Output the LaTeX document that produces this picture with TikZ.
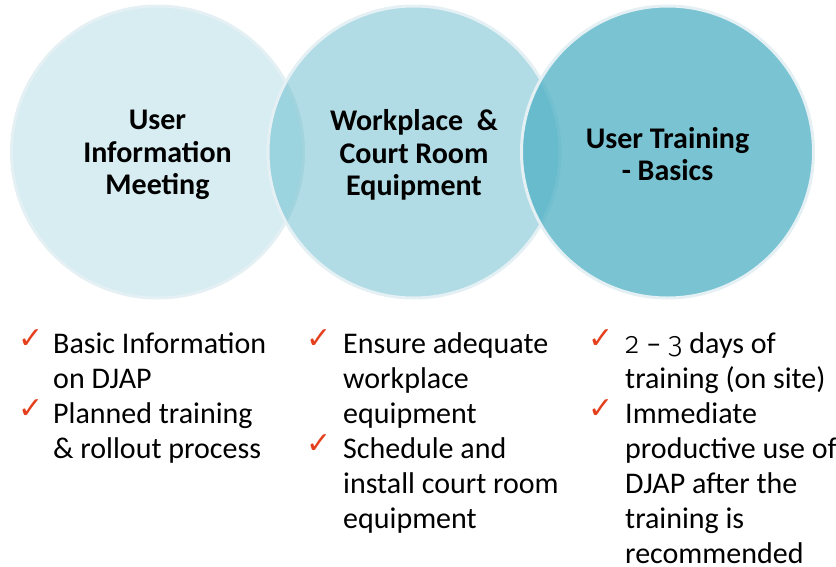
\documentclass[tikz,border=0pt]{standalone}
\usepackage{fontspec}
\setmainfont{Carlito}
\newfontfamily\symfont{DejaVu Sans}
\newfontfamily\oldnums{Fira Sans Light}[Numbers=OldStyle]
\usetikzlibrary{positioning}
\definecolor{aqua}{RGB}{82,178,197}
\definecolor{ring}{RGB}{228,240,244}
\definecolor{tick}{RGB}{228,64,30}

\begin{document}
\begin{tikzpicture}[x=1pt, y=-1pt,
    disc/.style={circle, minimum size=292pt, inner sep=0pt, line width=3pt, draw=ring, fill=aqua},
    title/.style={font=\fontsize{30}{32.5}\selectfont\bfseries, align=center},
    item/.style={font=\fontsize{30}{35}\selectfont, text width=240pt, align=flush left, inner sep=0pt, anchor=base west},
    tickmark/.style={font=\symfont\fontsize{30}{30}\selectfont, text=tick, inner sep=0pt, anchor=base west}]
      \useasboundingbox (0, 0) rectangle (836, 566);
      % circles
      \node[disc, fill opacity=0.23] (meet) at (157.5, 152) {};
      \node[disc, fill opacity=0.45] (equip) at (414, 152) {};
      \node[disc, fill opacity=0.775] (train) at (667.5, 152) {};
      \node[title] (meettxt) at (157.5, 155) {User\\Information\\Meeting};
      \node[title] (equiptxt) at (414, 155) {Workplace\ \ \&\\Court Room\\Equipment};
      \node[title] (traintxt) at (667.5, 154) {User Training\\- Basics};
      % lists
      \node[tickmark] (meettick1) at (18, 348) {✓};
      \node[item] (meet1) at (53, 353) {Basic Information\\on DJAP};
      \node[tickmark] (meettick2) at (18, 418) {✓};
      \node[item] (meet2) at (53, 423) {Planned training\\\& rollout process};
      \node[tickmark] (equiptick1) at (306, 348) {✓};
      \node[item] (equip1) at (343, 353) {Ensure adequate\\workplace\\equipment};
      \node[tickmark] (equiptick2) at (306, 453) {✓};
      \node[item] (equip2) at (343, 458) {Schedule and\\install court room\\equipment};
      \node[tickmark] (traintick1) at (588, 348) {✓};
      \node[item] (train1) at (625, 353) {{\oldnums 2} \textendash{} {\oldnums 3} days of\\training (on site)};
      \node[tickmark] (traintick2) at (588, 418) {✓};
      \node[item] (train2) at (625, 423) {Immediate\\productive use of\\DJAP after the\\training is\\recommended};
\end{tikzpicture}
\end{document}
